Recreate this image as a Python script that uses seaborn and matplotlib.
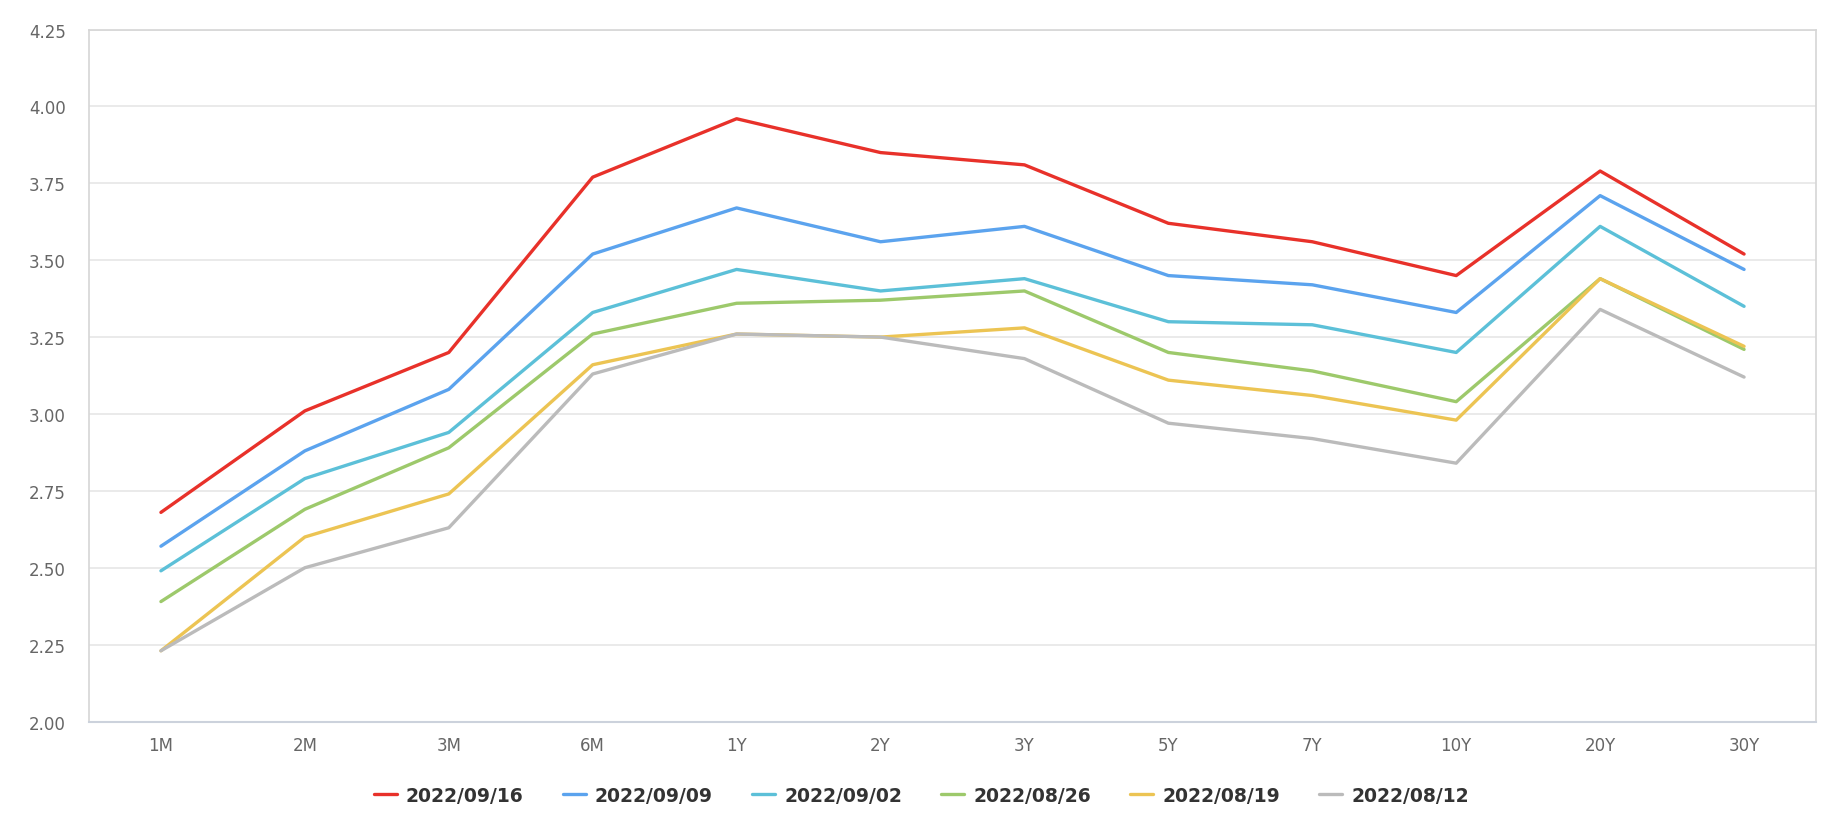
import matplotlib
matplotlib.use("Agg")
import matplotlib.pyplot as plt
import seaborn as sns
import pandas as pd

tenors = ["1M", "2M", "3M", "6M", "1Y", "2Y", "3Y", "5Y", "7Y", "10Y", "20Y", "30Y"]
dates = ["2022/09/16", "2022/09/09", "2022/09/02", "2022/08/26", "2022/08/19", "2022/08/12"]
s_0916 = [2.68, 3.01, 3.20, 3.77, 3.96, 3.85, 3.81, 3.62, 3.56, 3.45, 3.79, 3.52]
s_0909 = [2.57, 2.88, 3.08, 3.52, 3.67, 3.56, 3.61, 3.45, 3.42, 3.33, 3.71, 3.47]
s_0902 = [2.49, 2.79, 2.94, 3.33, 3.47, 3.40, 3.44, 3.30, 3.29, 3.20, 3.61, 3.35]
s_0826 = [2.39, 2.69, 2.89, 3.26, 3.36, 3.37, 3.40, 3.20, 3.14, 3.04, 3.44, 3.21]
s_0819 = [2.23, 2.60, 2.74, 3.16, 3.26, 3.25, 3.28, 3.11, 3.06, 2.98, 3.44, 3.22]
s_0812 = [2.23, 2.50, 2.63, 3.13, 3.26, 3.25, 3.18, 2.97, 2.92, 2.84, 3.34, 3.12]
yticks = [2.00, 2.25, 2.50, 2.75, 3.00, 3.25, 3.50, 3.75, 4.00, 4.25]

colors = ["#e8312a", "#5ba3ee", "#5cc0d8", "#9dc96b", "#ecc453", "#bbbbbb"]

series = [s_0916, s_0909, s_0902, s_0826, s_0819, s_0812]
rows = []
for d, vals in zip(dates, series):
    for i, (t, v) in enumerate(zip(tenors, vals)):
        rows.append({"idx": i, "tenor": t, "date": d, "value": v})
df = pd.DataFrame(rows)

sns.set_theme(style="white")
plt.rcParams['font.family'] = ['DejaVu Sans']

fig = plt.figure(figsize=(18.42, 8.28), dpi=100)
ax = fig.add_axes([0.0483, 0.1274, 0.9376, 0.8357])

sns.lineplot(data=df, x="idx", y="value", hue="date", hue_order=dates,
             palette=colors, linewidth=2.4, ax=ax, legend=True)

ax.set_xlim(-0.5, len(tenors) - 0.5)
ax.set_ylim(2.0, 4.25)
ax.set_xticks(range(len(tenors)))
ax.set_xticklabels(tenors)
ax.set_yticks(yticks)
ax.set_yticklabels([f"{v:.2f}" for v in yticks])
ax.set_xlabel("")
ax.set_ylabel("")
ax.grid(axis="y", color="#e6e6e6", linewidth=1.2)
ax.set_axisbelow(True)
ax.tick_params(axis="both", length=0, labelsize=12, colors="#666666")
ax.tick_params(axis="x", pad=10.5)
ax.tick_params(axis="y", pad=16.5)
for s in ["top", "right", "left"]:
    ax.spines[s].set_color("#d6d6d6")
    ax.spines[s].set_linewidth(1.2)
ax.spines["bottom"].set_color("#ccd2dc")
ax.spines["bottom"].set_linewidth(1.5)

handles, labels = ax.get_legend_handles_labels()
ax.get_legend().remove()
fig.legend(handles, labels, loc="center", bbox_to_anchor=(0.5003, 0.038),
           ncol=6, frameon=False, handlelength=1.2, handletextpad=0.5,
           columnspacing=2.1, prop={"size": 13.5, "weight": "bold"},
           labelcolor="#333333")

fig.savefig("out.png", dpi=100, facecolor="white")
